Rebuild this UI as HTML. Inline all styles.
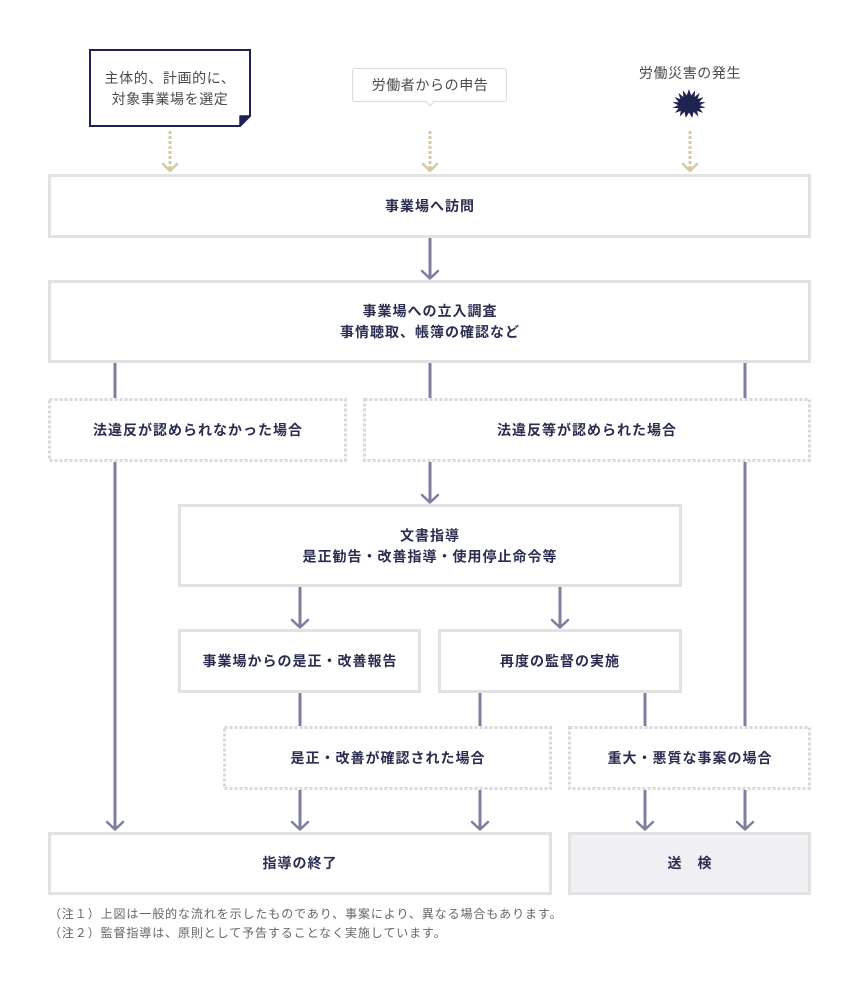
<!DOCTYPE html>
<html><head><meta charset="utf-8">
<style>
html,body{margin:0;padding:0;background:#fff;}
body{width:860px;height:990px;overflow:hidden;}
svg{display:block;}
.b{font-family:"Liberation Sans","Noto Sans CJK JP",sans-serif;font-size:14px;font-weight:bold;fill:#2a2d50;letter-spacing:1px;}
.g{font-family:"Liberation Sans","Noto Sans CJK JP",sans-serif;font-size:14px;fill:#4a4a4a;letter-spacing:0.6px;}
.n{font-family:"Liberation Sans","Noto Sans CJK JP",sans-serif;font-size:12px;fill:#666;letter-spacing:0.9px;}
</style></head>
<body>
<svg width="860" height="990" viewBox="0 0 860 990" xmlns="http://www.w3.org/2000/svg">
<!-- top note box -->
<path d="M90,50 H250 V116 L240,126 H90 Z" fill="#fff" stroke="#1f2350" stroke-width="2"/>
<path d="M240,116 H250 L240,126 Z" fill="#1f2350" stroke="#1f2350" stroke-width="1.5" stroke-linejoin="round"/>
<text class="g" x="170" y="78" text-anchor="middle" dominant-baseline="central">主体的、計画的に、</text>
<text class="g" x="170" y="99" text-anchor="middle" dominant-baseline="central">対象事業場を選定</text>

<!-- speech bubble -->
<path d="M355,68.5 H504 Q506.5,68.5 506.5,71 V99 Q506.5,101.5 504,101.5 H434 L430,106 L426,101.5 H355 Q352.5,101.5 352.5,99 V71 Q352.5,68.5 355,68.5 Z" fill="#fff" stroke="#dcdcdc" stroke-width="1"/>
<text class="g" x="430" y="85" text-anchor="middle" dominant-baseline="central">労働者からの申告</text>

<!-- disaster -->
<text class="g" x="690" y="73" text-anchor="middle" dominant-baseline="central">労働災害の発生</text>
<polygon fill="#1f2350" points="689.0,89.0 691.2,95.5 695.1,90.4 694.6,97.0 699.6,92.9 697.6,99.1 703.4,97.0 699.3,102.2 705.5,102.0 700.0,105.3 705.6,107.9 699.4,108.1 703.0,112.9 697.2,110.9 698.2,116.6 693.6,111.8 692.2,117.9 689.0,112.5 685.8,117.9 684.4,111.8 679.8,116.6 680.8,110.9 675.0,112.9 678.6,108.1 672.4,107.9 678.0,105.3 672.5,102.0 678.7,102.2 674.6,97.0 680.4,99.1 678.4,92.9 683.4,97.0 682.9,90.4 686.8,95.5"/>

<!-- tan dashed arrows -->
<g stroke="#d6caa5" stroke-width="3" fill="none">
<line x1="170" y1="131" x2="170" y2="170" stroke-dasharray="3 2"/>
<line x1="430" y1="131" x2="430" y2="170" stroke-dasharray="3 2"/>
<line x1="690" y1="131" x2="690" y2="170" stroke-dasharray="3 2"/>
</g>
<g stroke="#d6caa5" stroke-width="2.5" fill="none" stroke-linecap="round" stroke-linejoin="round">
<polyline points="163,164 170,171 177,164"/>
<polyline points="423,164 430,171 437,164"/>
<polyline points="683,164 690,171 697,164"/>
</g>

<!-- solid boxes -->
<g fill="#fff" stroke="#e2e2e2" stroke-width="3">
<rect x="49.5" y="175.5" width="760" height="61"/>
<rect x="49.5" y="281.5" width="760" height="80"/>
<rect x="179.5" y="505.5" width="501" height="80"/>
<rect x="179.5" y="630.5" width="240" height="61"/>
<rect x="439.5" y="630.5" width="241" height="61"/>
<rect x="49.5" y="833.5" width="501" height="60"/>
<rect x="569.5" y="833.5" width="240" height="60" fill="#efeff4"/>
</g>

<!-- dotted boxes -->
<g fill="#fff" stroke="#d9d9d9" stroke-width="3" stroke-dasharray="3 2">
<rect x="49.5" y="399.5" width="296" height="61"/>
<rect x="364.5" y="399.5" width="445" height="61"/>
<rect x="224.5" y="727.5" width="326" height="61"/>
<rect x="569.5" y="727.5" width="240" height="61"/>
</g>

<!-- connectors -->
<g stroke="#7e7f9f" stroke-width="3" fill="none">
<line x1="430" y1="238" x2="430" y2="277"/>
<line x1="115" y1="363" x2="115" y2="398"/>
<line x1="430" y1="363" x2="430" y2="398"/>
<line x1="745" y1="363" x2="745" y2="398"/>
<line x1="115" y1="462" x2="115" y2="829"/>
<line x1="430" y1="462" x2="430" y2="501"/>
<line x1="745" y1="462" x2="745" y2="726"/>
<line x1="300" y1="587" x2="300" y2="627"/>
<line x1="560" y1="587" x2="560" y2="627"/>
<line x1="300" y1="693" x2="300" y2="726"/>
<line x1="480" y1="693" x2="480" y2="726"/>
<line x1="645" y1="693" x2="645" y2="726"/>
<line x1="300" y1="790" x2="300" y2="829"/>
<line x1="480" y1="790" x2="480" y2="829"/>
<line x1="645" y1="790" x2="645" y2="829"/>
<line x1="745" y1="790" x2="745" y2="829"/>
</g>
<g stroke="#7e7f9f" stroke-width="2.5" fill="none" stroke-linecap="round" stroke-linejoin="round">
<polyline points="422,271 430,278.5 438,271"/>
<polyline points="107,822 115,829.5 123,822"/>
<polyline points="422,495 430,502.5 438,495"/>
<polyline points="292,620 300,627.5 308,620"/>
<polyline points="552,620 560,627.5 568,620"/>
<polyline points="292,822 300,829.5 308,822"/>
<polyline points="472,822 480,829.5 488,822"/>
<polyline points="637,822 645,829.5 653,822"/>
<polyline points="737,822 745,829.5 753,822"/>
</g>

<!-- labels -->
<g text-anchor="middle" dominant-baseline="central">
<text class="b" x="430" y="206">事業場へ訪問</text>
<text class="b" x="430" y="311">事業場への立入調査</text>
<text class="b" x="430" y="332">事情聴取、帳簿の確認など</text>
<text class="b" x="198" y="430">法違反が認められなかった場合</text>
<text class="b" x="587" y="430">法違反等が認められた場合</text>
<text class="b" x="430" y="535.5">文書指導</text>
<text class="b" x="430" y="556.5">是正勧告・改善指導・使用停止命令等</text>
<text class="b" x="300" y="661">事業場からの是正・改善報告</text>
<text class="b" x="560" y="661">再度の監督の実施</text>
<text class="b" x="388" y="758">是正・改善が確認された場合</text>
<text class="b" x="690" y="758">重大・悪質な事案の場合</text>
<text class="b" x="300" y="863">指導の終了</text>
<text class="b" x="690" y="863">送　検</text>
</g>

<!-- notes -->
<text class="n" x="49" y="914" dominant-baseline="central">（注１）上図は一般的な流れを示したものであり、事案により、異なる場合もあります。</text>
<text class="n" x="49" y="933" dominant-baseline="central">（注２）監督指導は、原則として予告することなく実施しています。</text>
</svg>
</body></html>
